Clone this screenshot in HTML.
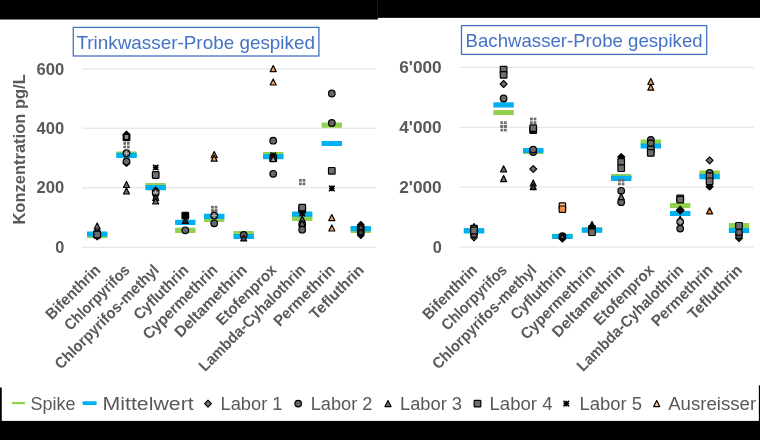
<!DOCTYPE html>
<html lang="de"><head><meta charset="utf-8"><title>Pyrethroide Ringversuch</title>
<style>
html,body{margin:0;padding:0;background:#fff;}
body{width:760px;height:440px;overflow:hidden;}
svg{display:block;}
text{font-family:"Liberation Sans",sans-serif;}
.ax{font-weight:bold;font-size:16.3px;fill:#595959;}
.cat{font-weight:bold;font-size:15.6px;fill:#595959;}
.leg{font-size:18.7px;fill:#595959;}
.ttl{font-size:19px;fill:#4472c4;}
</style></head><body>
<svg width="760" height="440" viewBox="0 0 760 440">
<rect width="760" height="440" fill="#fff"/>
<rect x="0" y="0" width="377.9" height="19.5" fill="#000"/>
<rect x="377.9" y="0" width="382.1" height="17.85" fill="#000"/>
<rect x="0" y="420.9" width="760" height="19.1" fill="#000"/>
<rect x="0" y="387.5" width="1.75" height="34" fill="#000"/>
<rect x="758.85" y="385.3" width="1.15" height="36" fill="#000"/>

<line x1="82" x2="376" y1="69" y2="69" stroke="#e0e0e0" stroke-width="1"/>
<line x1="82" x2="376" y1="128.2" y2="128.2" stroke="#e0e0e0" stroke-width="1"/>
<line x1="82" x2="376" y1="187.8" y2="187.8" stroke="#e0e0e0" stroke-width="1"/>
<line x1="82" x2="376" y1="247.3" y2="247.3" stroke="#e0e0e0" stroke-width="1"/>
<line x1="459.3" x2="753.8" y1="67.4" y2="67.4" stroke="#e0e0e0" stroke-width="1"/>
<line x1="459.3" x2="753.8" y1="127.3" y2="127.3" stroke="#e0e0e0" stroke-width="1"/>
<line x1="459.3" x2="753.8" y1="187.1" y2="187.1" stroke="#e0e0e0" stroke-width="1"/>
<line x1="459.3" x2="753.8" y1="247" y2="247" stroke="#e0e0e0" stroke-width="1"/>
<text class="ax" x="64.2" y="74.6" text-anchor="end" textLength="27.6" lengthAdjust="spacingAndGlyphs">600</text>
<text class="ax" x="64.2" y="133.8" text-anchor="end" textLength="27.6" lengthAdjust="spacingAndGlyphs">400</text>
<text class="ax" x="64.2" y="193.4" text-anchor="end" textLength="27.6" lengthAdjust="spacingAndGlyphs">200</text>
<text class="ax" x="64.2" y="252.9" text-anchor="end">0</text>
<text class="ax" x="441.7" y="73.0" text-anchor="end" textLength="42.4" lengthAdjust="spacingAndGlyphs">6'000</text>
<text class="ax" x="441.7" y="132.9" text-anchor="end" textLength="42.4" lengthAdjust="spacingAndGlyphs">4'000</text>
<text class="ax" x="441.7" y="192.7" text-anchor="end" textLength="42.4" lengthAdjust="spacingAndGlyphs">2'000</text>
<text class="ax" x="441.7" y="252.6" text-anchor="end">0</text>
<text class="ax" style="font-size:17.4px" transform="translate(24.6,224.6) rotate(-90)" textLength="150.4" lengthAdjust="spacingAndGlyphs">Konzentration pg/L</text>
<rect x="73.3" y="27.4" width="245.6" height="28.6" fill="#fff" stroke="#4472c4" stroke-width="1.3"/>
<text class="ttl" x="76.4" y="48.8" textLength="238.6" lengthAdjust="spacingAndGlyphs">Trinkwasser-Probe gespiked</text>
<rect x="461.5" y="25.6" width="245.2" height="28.8" fill="#fff" stroke="#4472c4" stroke-width="1.3"/>
<text class="ttl" x="465.6" y="46.8" textLength="237" lengthAdjust="spacingAndGlyphs">Bachwasser-Probe gespiked</text>
<text class="cat" transform="translate(101.4,271.0) rotate(-45)" text-anchor="end" textLength="70.1" lengthAdjust="spacingAndGlyphs">Bifenthrin</text>
<text class="cat" transform="translate(130.7,271.0) rotate(-45)" text-anchor="end" textLength="85.2" lengthAdjust="spacingAndGlyphs">Chlorpyrifos</text>
<text class="cat" transform="translate(159.9,271.0) rotate(-45)" text-anchor="end" textLength="139.9" lengthAdjust="spacingAndGlyphs">Chlorpyrifos-methyl</text>
<text class="cat" transform="translate(189.5,271.0) rotate(-45)" text-anchor="end" textLength="70.5" lengthAdjust="spacingAndGlyphs">Cyfluthrin</text>
<text class="cat" transform="translate(218.4,271.0) rotate(-45)" text-anchor="end" textLength="98.1" lengthAdjust="spacingAndGlyphs">Cypermethrin</text>
<text class="cat" transform="translate(247.9,271.0) rotate(-45)" text-anchor="end" textLength="95.0" lengthAdjust="spacingAndGlyphs">Deltamethrin</text>
<text class="cat" transform="translate(277.4,271.0) rotate(-45)" text-anchor="end" textLength="78.0" lengthAdjust="spacingAndGlyphs">Etofenprox</text>
<text class="cat" transform="translate(306.4,271.0) rotate(-45)" text-anchor="end" textLength="143.3" lengthAdjust="spacingAndGlyphs">Lambda-Cyhalothrin</text>
<text class="cat" transform="translate(336.0,271.0) rotate(-45)" text-anchor="end" textLength="79.7" lengthAdjust="spacingAndGlyphs">Permethrin</text>
<text class="cat" transform="translate(365.0,271.0) rotate(-45)" text-anchor="end" textLength="69.6" lengthAdjust="spacingAndGlyphs">Tefluthrin</text>
<text class="cat" transform="translate(478.2,271.0) rotate(-45)" text-anchor="end" textLength="70.1" lengthAdjust="spacingAndGlyphs">Bifenthrin</text>
<text class="cat" transform="translate(507.8,271.0) rotate(-45)" text-anchor="end" textLength="85.2" lengthAdjust="spacingAndGlyphs">Chlorpyrifos</text>
<text class="cat" transform="translate(537.4,271.0) rotate(-45)" text-anchor="end" textLength="139.9" lengthAdjust="spacingAndGlyphs">Chlorpyrifos-methyl</text>
<text class="cat" transform="translate(566.6,271.0) rotate(-45)" text-anchor="end" textLength="70.5" lengthAdjust="spacingAndGlyphs">Cyfluthrin</text>
<text class="cat" transform="translate(596.2,271.0) rotate(-45)" text-anchor="end" textLength="98.1" lengthAdjust="spacingAndGlyphs">Cypermethrin</text>
<text class="cat" transform="translate(625.4,271.0) rotate(-45)" text-anchor="end" textLength="95.0" lengthAdjust="spacingAndGlyphs">Deltamethrin</text>
<text class="cat" transform="translate(655.0,271.0) rotate(-45)" text-anchor="end" textLength="78.0" lengthAdjust="spacingAndGlyphs">Etofenprox</text>
<text class="cat" transform="translate(684.4,271.0) rotate(-45)" text-anchor="end" textLength="143.3" lengthAdjust="spacingAndGlyphs">Lambda-Cyhalothrin</text>
<text class="cat" transform="translate(713.8,271.0) rotate(-45)" text-anchor="end" textLength="79.7" lengthAdjust="spacingAndGlyphs">Permethrin</text>
<text class="cat" transform="translate(743.2,271.0) rotate(-45)" text-anchor="end" textLength="69.6" lengthAdjust="spacingAndGlyphs">Tefluthrin</text>
<rect x="87.0" y="232.8" width="20.4" height="5.2" rx="0.4" fill="#92d050"/>
<rect x="87.0" y="231.4" width="20.4" height="5.2" rx="0.4" fill="#00b0f0"/>
<rect x="116.3" y="151.5" width="20.4" height="5.2" rx="0.4" fill="#92d050"/>
<rect x="116.3" y="152.7" width="20.4" height="5.2" rx="0.4" fill="#00b0f0"/>
<rect x="145.5" y="183.0" width="20.4" height="5.2" rx="0.4" fill="#92d050"/>
<rect x="145.5" y="185.1" width="20.4" height="5.2" rx="0.4" fill="#00b0f0"/>
<rect x="175.1" y="227.7" width="20.4" height="5.2" rx="0.4" fill="#92d050"/>
<rect x="175.1" y="219.7" width="20.4" height="5.2" rx="0.4" fill="#00b0f0"/>
<rect x="204.0" y="216.9" width="20.4" height="5.2" rx="0.4" fill="#92d050"/>
<rect x="204.0" y="213.8" width="20.4" height="5.2" rx="0.4" fill="#00b0f0"/>
<rect x="233.5" y="231.0" width="20.4" height="5.2" rx="0.4" fill="#92d050"/>
<rect x="233.5" y="233.9" width="20.4" height="5.2" rx="0.4" fill="#00b0f0"/>
<rect x="263.0" y="152.0" width="20.4" height="5.2" rx="0.4" fill="#92d050"/>
<rect x="263.0" y="154.0" width="20.4" height="5.2" rx="0.4" fill="#00b0f0"/>
<rect x="292.0" y="215.9" width="20.4" height="5.2" rx="0.4" fill="#92d050"/>
<rect x="292.0" y="211.5" width="20.4" height="5.2" rx="0.4" fill="#00b0f0"/>
<rect x="321.6" y="122.6" width="20.4" height="5.2" rx="0.4" fill="#92d050"/>
<rect x="321.6" y="140.9" width="20.4" height="5.2" rx="0.4" fill="#00b0f0"/>
<rect x="350.6" y="227.9" width="20.4" height="5.2" rx="0.4" fill="#92d050"/>
<rect x="350.6" y="226.1" width="20.4" height="5.2" rx="0.4" fill="#00b0f0"/>
<path d="M97.2 233.0L100.7 236.4L97.2 239.8L93.8 236.4Z" fill="#6e6e6e" stroke="#000" stroke-width="1.1" stroke-linejoin="round"/>
<path d="M97.2 226.0L100.2 232.0L94.2 232.0Z" fill="#6e6e6e" stroke="#000" stroke-width="1.2" stroke-linejoin="round"/>
<rect x="93.9" y="231.2" width="6.6" height="6.6" rx="0.7" fill="#6e6e6e" stroke="#000" stroke-width="1.2"/>
<path d="M97.2 223.0L100.2 229.0L94.2 229.0Z" fill="#6e6e6e" stroke="#000" stroke-width="1.2" stroke-linejoin="round"/>
<circle cx="97.2" cy="234.5" r="3.3" fill="#686868" stroke="#000" stroke-width="1.2"/>
<rect x="93.9" y="231.2" width="6.6" height="6.6" rx="0.7" fill="#6e6e6e" stroke="#000" stroke-width="1.2"/>
<path d="M126.5 159.6L129.9 163.0L126.5 166.4L123.0 163.0Z" fill="#6e6e6e" stroke="#000" stroke-width="1.1" stroke-linejoin="round"/>
<circle cx="126.5" cy="161.5" r="3.3" fill="#666" stroke="#000" stroke-width="1.2"/>
<path d="M126.5 181.5L129.5 187.5L123.5 187.5Z" fill="#6e6e6e" stroke="#000" stroke-width="1.2" stroke-linejoin="round"/>
<path d="M126.5 188.0L129.5 194.0L123.5 194.0Z" fill="#6e6e6e" stroke="#000" stroke-width="1.2" stroke-linejoin="round"/>
<rect x="123.35" y="142.05" width="2.7" height="2.7" fill="#6b6b6b"/>
<rect x="123.35" y="145.65" width="2.7" height="2.7" fill="#6b6b6b"/>
<rect x="126.95" y="142.05" width="2.7" height="2.7" fill="#6b6b6b"/>
<rect x="126.95" y="145.65" width="2.7" height="2.7" fill="#6b6b6b"/>
<circle cx="126.5" cy="153.2" r="3.3" fill="#686868" stroke="#000" stroke-width="1.2"/>
<path d="M123.9 153.2H129.1M126.5 150.6V155.8" stroke="#bdbdbd" stroke-width="1" fill="none"/>
<path d="M126.5 131.2L129.9 134.6L126.5 138.0L123.0 134.6Z" fill="#000" stroke="#000" stroke-width="1.1" stroke-linejoin="round"/>
<path d="M126.5 132.5L129.5 138.5L123.5 138.5Z" fill="#000" stroke="#000" stroke-width="1.2" stroke-linejoin="round"/>
<rect x="123.2" y="134.0" width="6.6" height="6.6" rx="0.7" fill="#000" stroke="#000" stroke-width="1.2"/>
<path d="M123.7 134.2L129.3 139.8M129.3 134.2L123.7 139.8M126.5 134.2V139.8M123.7 137.0H129.3" stroke="#000" stroke-width="1.5" fill="none"/>
<rect x="124.7" y="135" width="3.6" height="4" fill="#8a8a8a"/>
<path d="M152.9 164.7L158.5 170.3M158.5 164.7L152.9 170.3M155.7 164.7V170.3M152.9 167.5H158.5" stroke="#000" stroke-width="1.5" fill="none"/>
<rect x="152.4" y="171.7" width="6.6" height="6.6" rx="0.7" fill="#6e6e6e" stroke="#000" stroke-width="1.2"/>
<path d="M155.7 187.1L159.1 190.5L155.7 193.9L152.2 190.5Z" fill="#000" stroke="#000" stroke-width="1.1" stroke-linejoin="round"/>
<rect x="152.55" y="189.35" width="2.7" height="2.7" fill="#6b6b6b"/>
<rect x="152.55" y="192.95" width="2.7" height="2.7" fill="#6b6b6b"/>
<rect x="156.15" y="189.35" width="2.7" height="2.7" fill="#6b6b6b"/>
<rect x="156.15" y="192.95" width="2.7" height="2.7" fill="#6b6b6b"/>
<circle cx="155.7" cy="192.8" r="3.3" fill="#686868" stroke="#000" stroke-width="1.2"/>
<path d="M153.1 192.8H158.3M155.7 190.2V195.4" stroke="#bdbdbd" stroke-width="1" fill="none"/>
<path d="M152.9 195.2L158.5 200.8M158.5 195.2L152.9 200.8M155.7 195.2V200.8M152.9 198.0H158.5" stroke="#000" stroke-width="1.5" fill="none"/>
<path d="M155.7 194.5L158.7 200.5L152.7 200.5Z" fill="#6e6e6e" stroke="#000" stroke-width="1.2" stroke-linejoin="round"/>
<path d="M155.7 198.0L158.7 204.0L152.7 204.0Z" fill="#6e6e6e" stroke="#000" stroke-width="1.2" stroke-linejoin="round"/>
<circle cx="185.3" cy="230.3" r="3.3" fill="#686868" stroke="#000" stroke-width="1.2"/>
<rect x="182.0" y="212.3" width="6.6" height="6.6" rx="0.7" fill="#000" stroke="#000" stroke-width="1.2"/>
<path d="M182.5 213.2L188.1 218.8M188.1 213.2L182.5 218.8M185.3 213.2V218.8M182.5 216.0H188.1" stroke="#000" stroke-width="1.5" fill="none"/>
<path d="M185.3 217.5L188.3 223.5L182.3 223.5Z" fill="#222" stroke="#000" stroke-width="1.2" stroke-linejoin="round"/>
<rect x="211.05" y="205.85" width="2.7" height="2.7" fill="#6b6b6b"/>
<rect x="211.05" y="209.45" width="2.7" height="2.7" fill="#6b6b6b"/>
<rect x="214.65" y="205.85" width="2.7" height="2.7" fill="#6b6b6b"/>
<rect x="214.65" y="209.45" width="2.7" height="2.7" fill="#6b6b6b"/>
<rect x="211.05" y="209.35" width="2.7" height="2.7" fill="#6b6b6b"/>
<rect x="211.05" y="212.95" width="2.7" height="2.7" fill="#6b6b6b"/>
<rect x="214.65" y="209.35" width="2.7" height="2.7" fill="#6b6b6b"/>
<rect x="214.65" y="212.95" width="2.7" height="2.7" fill="#6b6b6b"/>
<circle cx="214.2" cy="215.6" r="3.3" fill="#686868" stroke="#000" stroke-width="1.2"/>
<path d="M211.6 215.6H216.8M214.2 213.0V218.2" stroke="#bdbdbd" stroke-width="1" fill="none"/>
<circle cx="214.2" cy="223.3" r="3.3" fill="#686868" stroke="#000" stroke-width="1.2"/>
<path d="M214.2 151.6L217.2 157.6L211.2 157.6Z" fill="#f4a460" stroke="#000" stroke-width="1.2" stroke-linejoin="round"/>
<path d="M214.2 155.2L217.2 161.2L211.2 161.2Z" fill="#f4a460" stroke="#000" stroke-width="1.2" stroke-linejoin="round"/>
<circle cx="243.7" cy="235.0" r="3.3" fill="#686868" stroke="#000" stroke-width="1.2"/>
<path d="M243.7 234.9L246.7 240.9L240.7 240.9Z" fill="#555" stroke="#000" stroke-width="1.2" stroke-linejoin="round"/>
<path d="M273.2 65.6L276.2 71.6L270.2 71.6Z" fill="#f4a460" stroke="#000" stroke-width="1.2" stroke-linejoin="round"/>
<path d="M273.2 79.0L276.2 85.0L270.2 85.0Z" fill="#f4a460" stroke="#000" stroke-width="1.2" stroke-linejoin="round"/>
<circle cx="273.2" cy="140.7" r="3.3" fill="#686868" stroke="#000" stroke-width="1.2"/>
<circle cx="273.2" cy="173.8" r="3.3" fill="#686868" stroke="#000" stroke-width="1.2"/>
<rect x="269.9" y="155.1" width="6.6" height="6.6" rx="0.7" fill="#999" stroke="#000" stroke-width="1.2"/>
<path d="M270.4 152.5L276.0 158.1M276.0 152.5L270.4 158.1M273.2 152.5V158.1M270.4 155.3H276.0" stroke="#000" stroke-width="1.5" fill="none"/>
<path d="M273.2 155.5L276.2 161.5L270.2 161.5Z" fill="#888" stroke="#000" stroke-width="1.2" stroke-linejoin="round"/>
<rect x="299.05" y="178.95" width="2.7" height="2.7" fill="#6b6b6b"/>
<rect x="299.05" y="182.55" width="2.7" height="2.7" fill="#6b6b6b"/>
<rect x="302.65" y="178.95" width="2.7" height="2.7" fill="#6b6b6b"/>
<rect x="302.65" y="182.55" width="2.7" height="2.7" fill="#6b6b6b"/>
<circle cx="302.2" cy="224.5" r="3.3" fill="#686868" stroke="#000" stroke-width="1.2"/>
<rect x="298.9" y="206.0" width="6.6" height="6.6" rx="0.7" fill="#555" stroke="#000" stroke-width="1.2"/>
<rect x="298.9" y="204.3" width="6.6" height="6.6" rx="0.7" fill="#6e6e6e" stroke="#000" stroke-width="1.2"/>
<path d="M299.4 210.6L305.0 216.2M305.0 210.6L299.4 216.2M302.2 210.6V216.2M299.4 213.4H305.0" stroke="#000" stroke-width="1.5" fill="none"/>
<path d="M302.2 216.0L305.2 222.0L299.2 222.0Z" fill="#6e6e6e" stroke="#000" stroke-width="1.2" stroke-linejoin="round"/>
<path d="M302.2 220.3L305.2 226.3L299.2 226.3Z" fill="#6e6e6e" stroke="#000" stroke-width="1.2" stroke-linejoin="round"/>
<circle cx="302.2" cy="229.7" r="3.3" fill="#686868" stroke="#000" stroke-width="1.2"/>
<circle cx="331.8" cy="93.5" r="3.3" fill="#686868" stroke="#000" stroke-width="1.2"/>
<circle cx="331.8" cy="123.0" r="3.3" fill="#686868" stroke="#000" stroke-width="1.2"/>
<rect x="328.5" y="167.5" width="6.6" height="6.6" rx="0.7" fill="#6e6e6e" stroke="#000" stroke-width="1.2"/>
<path d="M329.0 185.6L334.6 191.2M334.6 185.6L329.0 191.2M331.8 185.6V191.2M329.0 188.4H334.6" stroke="#000" stroke-width="1.5" fill="none"/>
<path d="M331.8 214.6L334.8 220.6L328.8 220.6Z" fill="#f4a460" stroke="#000" stroke-width="1.2" stroke-linejoin="round"/>
<path d="M331.8 225.0L334.8 231.0L328.8 231.0Z" fill="#f4a460" stroke="#000" stroke-width="1.2" stroke-linejoin="round"/>
<path d="M360.8 231.9L364.1 235.2L360.8 238.5L357.5 235.2Z" fill="#000" stroke="#000" stroke-width="1.1" stroke-linejoin="round"/>
<path d="M360.8 221.5L364.1 224.8L360.8 228.1L357.5 224.8Z" fill="#000" stroke="#000" stroke-width="1.1" stroke-linejoin="round"/>
<rect x="356.9" y="225" width="7.8" height="10" rx="1" fill="#0c0c0c"/>
<path d="M360.8 225.2L362.4 229H359.2Z" fill="#555"/>
<circle cx="360.8" cy="232.6" r="1.6" fill="#4a4a4a"/>
<rect x="463.8" y="227.9" width="20.4" height="5.2" rx="0.4" fill="#92d050"/>
<rect x="463.8" y="228.2" width="20.4" height="5.2" rx="0.4" fill="#00b0f0"/>
<rect x="493.4" y="109.9" width="20.4" height="5.2" rx="0.4" fill="#92d050"/>
<rect x="493.4" y="102.2" width="20.4" height="5.2" rx="0.4" fill="#00b0f0"/>
<rect x="523.0" y="148.9" width="20.4" height="5.2" rx="0.4" fill="#92d050"/>
<rect x="523.0" y="147.9" width="20.4" height="5.2" rx="0.4" fill="#00b0f0"/>
<rect x="552.2" y="233.8" width="20.4" height="5.2" rx="0.4" fill="#92d050"/>
<rect x="552.2" y="233.9" width="20.4" height="5.2" rx="0.4" fill="#00b0f0"/>
<rect x="581.8" y="227.2" width="20.4" height="5.2" rx="0.4" fill="#92d050"/>
<rect x="581.8" y="227.6" width="20.4" height="5.2" rx="0.4" fill="#00b0f0"/>
<rect x="611.0" y="173.9" width="20.4" height="5.2" rx="0.4" fill="#92d050"/>
<rect x="611.0" y="175.8" width="20.4" height="5.2" rx="0.4" fill="#00b0f0"/>
<rect x="640.6" y="139.4" width="20.4" height="5.2" rx="0.4" fill="#92d050"/>
<rect x="640.6" y="143.4" width="20.4" height="5.2" rx="0.4" fill="#00b0f0"/>
<rect x="670.0" y="202.9" width="20.4" height="5.2" rx="0.4" fill="#92d050"/>
<rect x="670.0" y="210.9" width="20.4" height="5.2" rx="0.4" fill="#00b0f0"/>
<rect x="699.4" y="170.6" width="20.4" height="5.2" rx="0.4" fill="#92d050"/>
<rect x="699.4" y="174.1" width="20.4" height="5.2" rx="0.4" fill="#00b0f0"/>
<rect x="728.8" y="222.9" width="20.4" height="5.2" rx="0.4" fill="#92d050"/>
<rect x="728.8" y="227.9" width="20.4" height="5.2" rx="0.4" fill="#00b0f0"/>
<path d="M474.0 234.0L477.4 237.4L474.0 240.8L470.6 237.4Z" fill="#6e6e6e" stroke="#000" stroke-width="1.1" stroke-linejoin="round"/>
<path d="M474.0 231.6L477.4 235.0L474.0 238.4L470.6 235.0Z" fill="#6e6e6e" stroke="#000" stroke-width="1.1" stroke-linejoin="round"/>
<path d="M474.0 223.6L477.0 229.6L471.0 229.6Z" fill="#000" stroke="#000" stroke-width="1.2" stroke-linejoin="round"/>
<circle cx="474.0" cy="234.0" r="3.3" fill="#686868" stroke="#000" stroke-width="1.2"/>
<rect x="470.7" y="225.3" width="6.6" height="6.6" rx="0.7" fill="#6e6e6e" stroke="#000" stroke-width="1.2"/>
<rect x="470.7" y="227.2" width="6.6" height="6.6" rx="0.7" fill="#6e6e6e" stroke="#000" stroke-width="1.2"/>
<rect x="500.3" y="66.3" width="6.6" height="6.6" rx="0.7" fill="#6e6e6e" stroke="#000" stroke-width="1.2"/>
<rect x="500.3" y="71.6" width="6.6" height="6.6" rx="0.7" fill="#6e6e6e" stroke="#000" stroke-width="1.2"/>
<path d="M503.6 80.5L507.1 84.0L503.6 87.5L500.2 84.0Z" fill="#6e6e6e" stroke="#000" stroke-width="1.1" stroke-linejoin="round"/>
<circle cx="503.6" cy="98.5" r="3.3" fill="#686868" stroke="#000" stroke-width="1.2"/>
<rect x="500.45" y="121.35" width="2.7" height="2.7" fill="#6b6b6b"/>
<rect x="500.45" y="124.95" width="2.7" height="2.7" fill="#6b6b6b"/>
<rect x="504.05" y="121.35" width="2.7" height="2.7" fill="#6b6b6b"/>
<rect x="504.05" y="124.95" width="2.7" height="2.7" fill="#6b6b6b"/>
<rect x="500.45" y="125.15" width="2.7" height="2.7" fill="#6b6b6b"/>
<rect x="500.45" y="128.75" width="2.7" height="2.7" fill="#6b6b6b"/>
<rect x="504.05" y="125.15" width="2.7" height="2.7" fill="#6b6b6b"/>
<rect x="504.05" y="128.75" width="2.7" height="2.7" fill="#6b6b6b"/>
<path d="M503.6 165.8L506.6 171.8L500.6 171.8Z" fill="#6e6e6e" stroke="#000" stroke-width="1.2" stroke-linejoin="round"/>
<path d="M503.6 175.6L506.6 181.6L500.6 181.6Z" fill="#6e6e6e" stroke="#000" stroke-width="1.2" stroke-linejoin="round"/>
<rect x="530.05" y="117.65" width="2.7" height="2.7" fill="#6b6b6b"/>
<rect x="530.05" y="121.25" width="2.7" height="2.7" fill="#6b6b6b"/>
<rect x="533.65" y="117.65" width="2.7" height="2.7" fill="#6b6b6b"/>
<rect x="533.65" y="121.25" width="2.7" height="2.7" fill="#6b6b6b"/>
<rect x="529.9" y="126.9" width="6.6" height="6.6" rx="0.7" fill="#111" stroke="#000" stroke-width="1.2"/>
<rect x="529.9" y="124.8" width="6.6" height="6.6" rx="0.7" fill="#6e6e6e" stroke="#000" stroke-width="1.2"/>
<circle cx="533.2" cy="152.0" r="3.3" fill="#686868" stroke="#000" stroke-width="1.2"/>
<circle cx="533.2" cy="149.6" r="3.3" fill="#686868" stroke="#000" stroke-width="1.2"/>
<path d="M533.2 165.6L536.7 169.0L533.2 172.4L529.8 169.0Z" fill="#6e6e6e" stroke="#000" stroke-width="1.1" stroke-linejoin="round"/>
<path d="M533.2 180.0L536.2 186.0L530.2 186.0Z" fill="#6e6e6e" stroke="#000" stroke-width="1.2" stroke-linejoin="round"/>
<path d="M533.2 183.6L536.2 189.6L530.2 189.6Z" fill="#333" stroke="#000" stroke-width="1.2" stroke-linejoin="round"/>
<rect x="559.2" y="202.8" width="6.4" height="6.4" rx="0.7" fill="#f9bd80" stroke="#000" stroke-width="1.2"/>
<rect x="559.2" y="206.0" width="6.4" height="6.4" rx="0.7" fill="#f7964a" stroke="#000" stroke-width="1.2"/>
<rect x="559.7" y="209.3" width="5.4" height="0.7" fill="#d97a30"/>
<path d="M562.4 235.2L565.9 238.6L562.4 242.0L558.9 238.6Z" fill="#000" stroke="#000" stroke-width="1.1" stroke-linejoin="round"/>
<circle cx="562.4" cy="236.2" r="3.3" fill="#222" stroke="#000" stroke-width="1.2"/>
<path d="M562.4 233.8L564.8 238.6L560.0 238.6Z" fill="#666" stroke="#000" stroke-width="1.2" stroke-linejoin="round"/>
<path d="M592.0 221.6L595.0 227.6L589.0 227.6Z" fill="#000" stroke="#000" stroke-width="1.2" stroke-linejoin="round"/>
<rect x="588.2" y="225" width="7.6" height="6" fill="#000"/>
<rect x="588.7" y="228.9" width="6.6" height="6.6" rx="0.7" fill="#6e6e6e" stroke="#000" stroke-width="1.2"/>
<path d="M621.2 153.6L624.7 157.0L621.2 160.4L617.8 157.0Z" fill="#000" stroke="#000" stroke-width="1.1" stroke-linejoin="round"/>
<rect x="617.9" y="158.7" width="6.6" height="6.6" rx="0.7" fill="#6e6e6e" stroke="#000" stroke-width="1.2"/>
<rect x="617.9" y="164.9" width="6.6" height="6.6" rx="0.7" fill="#6e6e6e" stroke="#000" stroke-width="1.2"/>
<rect x="618.05" y="179.05" width="2.7" height="2.7" fill="#6b6b6b"/>
<rect x="618.05" y="182.65" width="2.7" height="2.7" fill="#6b6b6b"/>
<rect x="621.65" y="179.05" width="2.7" height="2.7" fill="#6b6b6b"/>
<rect x="621.65" y="182.65" width="2.7" height="2.7" fill="#6b6b6b"/>
<circle cx="621.2" cy="190.8" r="3.3" fill="#686868" stroke="#000" stroke-width="1.2"/>
<circle cx="621.2" cy="202.2" r="3.3" fill="#686868" stroke="#000" stroke-width="1.2"/>
<path d="M621.2 193.6L624.2 199.6L618.2 199.6Z" fill="#6e6e6e" stroke="#000" stroke-width="1.2" stroke-linejoin="round"/>
<path d="M650.8 78.5L653.8 84.5L647.8 84.5Z" fill="#f4a460" stroke="#000" stroke-width="1.2" stroke-linejoin="round"/>
<path d="M650.8 84.2L653.8 90.2L647.8 90.2Z" fill="#f4a460" stroke="#000" stroke-width="1.2" stroke-linejoin="round"/>
<circle cx="650.8" cy="140.0" r="3.3" fill="#686868" stroke="#000" stroke-width="1.2"/>
<circle cx="650.8" cy="143.2" r="3.3" fill="#686868" stroke="#000" stroke-width="1.2"/>
<rect x="647.5" y="146.2" width="6.6" height="6.6" rx="0.7" fill="#6e6e6e" stroke="#000" stroke-width="1.2"/>
<rect x="647.5" y="149.6" width="6.6" height="6.6" rx="0.7" fill="#6e6e6e" stroke="#000" stroke-width="1.2"/>
<rect x="676.9" y="195.0" width="6.6" height="6.6" rx="0.7" fill="#6e6e6e" stroke="#000" stroke-width="1.2"/>
<rect x="676.9" y="196.3" width="6.6" height="6.6" rx="0.7" fill="#6e6e6e" stroke="#000" stroke-width="1.2"/>
<path d="M680.2 206.3L684.1 210.2L680.2 214.1L676.3 210.2Z" fill="#000" stroke="#000" stroke-width="1.1" stroke-linejoin="round"/>
<circle cx="680.2" cy="228.6" r="3.3" fill="#686868" stroke="#000" stroke-width="1.2"/>
<path d="M680.2 216.3L683.2 222.3L677.2 222.3Z" fill="#333" stroke="#000" stroke-width="1.2" stroke-linejoin="round"/>
<circle cx="680.2" cy="221.8" r="3.3" fill="#686868" stroke="#000" stroke-width="1.2"/>
<path d="M677.6 221.8H682.8M680.2 219.2V224.4" stroke="#bdbdbd" stroke-width="1" fill="none"/>
<path d="M709.6 156.9L713.1 160.3L709.6 163.8L706.1 160.3Z" fill="#6e6e6e" stroke="#000" stroke-width="1.1" stroke-linejoin="round"/>
<path d="M709.6 183.2L713.1 186.6L709.6 190.0L706.1 186.6Z" fill="#000" stroke="#000" stroke-width="1.1" stroke-linejoin="round"/>
<circle cx="709.6" cy="173.0" r="3.3" fill="#686868" stroke="#000" stroke-width="1.2"/>
<rect x="706.3" y="172.9" width="6.6" height="6.6" rx="0.7" fill="#6e6e6e" stroke="#000" stroke-width="1.2"/>
<rect x="706.3" y="178.0" width="6.6" height="6.6" rx="0.7" fill="#6e6e6e" stroke="#000" stroke-width="1.2"/>
<path d="M709.6 207.8L712.6 213.8L706.6 213.8Z" fill="#ee7d2e" stroke="#000" stroke-width="1.2" stroke-linejoin="round"/>
<path d="M739.0 234.8L742.5 238.2L739.0 241.6L735.5 238.2Z" fill="#333" stroke="#000" stroke-width="1.1" stroke-linejoin="round"/>
<circle cx="739.0" cy="235.3" r="3.3" fill="#686868" stroke="#000" stroke-width="1.2"/>
<circle cx="739.0" cy="232.3" r="3.3" fill="#686868" stroke="#000" stroke-width="1.2"/>
<rect x="735.7" y="222.5" width="6.6" height="6.6" rx="0.7" fill="#6e6e6e" stroke="#000" stroke-width="1.2"/>
<rect x="12" y="402" width="13" height="2.2" fill="#92d050"/>
<text class="leg" x="30.5" y="409.6" textLength="45" lengthAdjust="spacingAndGlyphs">Spike</text>
<rect x="82.5" y="401.3" width="14.2" height="3.6" rx="0.8" fill="#00b0f0"/>
<text class="leg" x="102.5" y="409.6" textLength="91.2" lengthAdjust="spacingAndGlyphs">Mittelwert</text>
<path d="M208.0 400.2L211.4 403.6L208.0 407.1L204.6 403.6Z" fill="#6e6e6e" stroke="#000" stroke-width="1.1" stroke-linejoin="round"/>
<text class="leg" x="220.5" y="409.6" textLength="62" lengthAdjust="spacingAndGlyphs">Labor 1</text>
<circle cx="298.2" cy="403.6" r="3.3" fill="#686868" stroke="#000" stroke-width="1.2"/>
<text class="leg" x="310.7" y="409.6" textLength="61.8" lengthAdjust="spacingAndGlyphs">Labor 2</text>
<path d="M388.0 400.6L391.0 406.6L385.0 406.6Z" fill="#6e6e6e" stroke="#000" stroke-width="1.2" stroke-linejoin="round"/>
<text class="leg" x="400" y="409.6" textLength="62" lengthAdjust="spacingAndGlyphs">Labor 3</text>
<rect x="474.2" y="400.3" width="6.6" height="6.6" rx="0.7" fill="#6e6e6e" stroke="#000" stroke-width="1.2"/>
<text class="leg" x="489.5" y="409.6" textLength="63" lengthAdjust="spacingAndGlyphs">Labor 4</text>
<path d="M563.5 400.8L569.1 406.4M569.1 400.8L563.5 406.4M566.3 400.8V406.4M563.5 403.6H569.1" stroke="#000" stroke-width="1.5" fill="none"/>
<text class="leg" x="579.5" y="409.6" textLength="62.5" lengthAdjust="spacingAndGlyphs">Labor 5</text>
<path d="M656.7 400.6L659.7 406.6L653.7 406.6Z" fill="#f8cbad" stroke="#000" stroke-width="1.2" stroke-linejoin="round"/>
<text class="leg" x="668.2" y="409.6" textLength="88" lengthAdjust="spacingAndGlyphs">Ausreisser</text>
</svg></body></html>
